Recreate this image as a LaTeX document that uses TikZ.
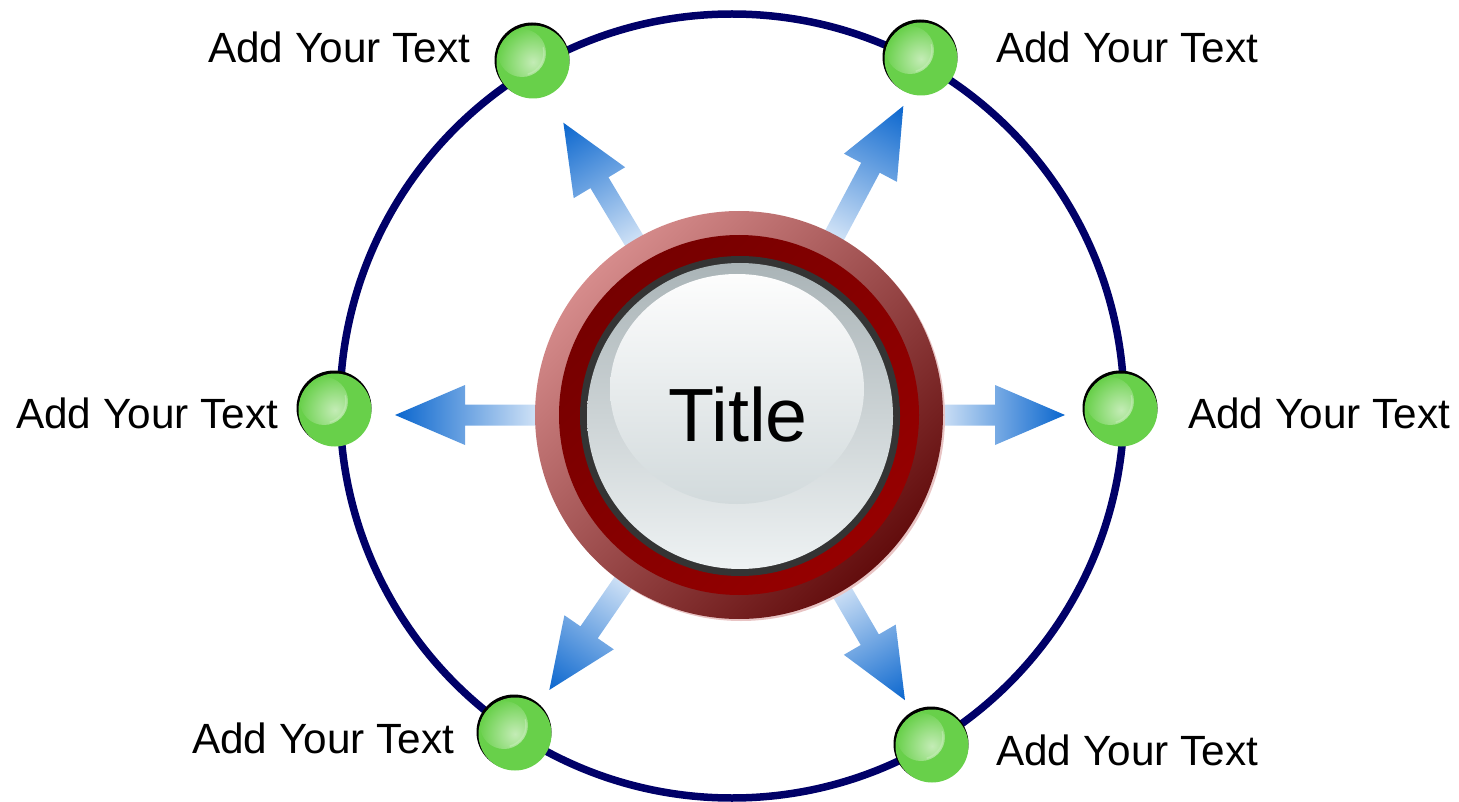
\documentclass[tikz,border=0pt]{standalone}
\usepackage{fontspec}
\setmainfont{Liberation Sans}
\definecolor{navy}{RGB}{0,0,104}
\definecolor{arrowblue}{RGB}{10,102,206}
\definecolor{arrowlight}{RGB}{232,241,251}
\definecolor{ringlight}{RGB}{214,140,140}
\definecolor{ringmid}{RGB}{152,22,22}
\definecolor{ringdark}{RGB}{98,12,12}
\definecolor{rimpink}{RGB}{232,196,196}
\definecolor{innerdark}{RGB}{118,0,0}
\definecolor{innerbright}{RGB}{150,0,0}
\definecolor{bordergray}{RGB}{52,52,52}
\definecolor{facetop}{RGB}{170,180,183}
\definecolor{facemid}{RGB}{206,214,216}
\definecolor{facebot}{RGB}{238,242,243}
\definecolor{hitop}{RGB}{253,253,253}
\definecolor{hibot}{RGB}{210,218,220}
\definecolor{ballgreen}{RGB}{104,208,74}
\definecolor{ballhi}{RGB}{196,236,182}
\newcommand\radarrow[3]{%
  \begin{scope}[transform canvas={shift={(739,415)},rotate=#1}]
    \shade[left color=arrowlight, right color=arrowblue]
      (#2,-10.5) -- (#3-70,-10.5) -- (#3-70,-30) -- (#3,0) -- (#3-70,30)
      -- (#3-70,10.5) -- (#2,10.5) -- cycle;
  \end{scope}}
\newcommand\greenball[3]{%
  \fill[black] (#2-1,#3-2) circle (37.5);
  \node[ball] (#1) at (#2,#3) {};}
\begin{document}
\begin{tikzpicture}[x=1pt,y=-1pt,
  lbl/.style={inner sep=0pt, anchor=west, font=\fontsize{42.3}{50}\selectfont},
  ball/.style={circle, inner sep=0pt, minimum size=73pt, fill=ballgreen,
    path picture={
      \shade[inner color=ballhi, outer color=ballgreen]
        ([shift={(-11pt,9pt)}]path picture bounding box.center) circle (24pt);
      \draw[ballhi, opacity=.6, line width=1.4pt]
        ([shift={(-11pt,9pt)}]path picture bounding box.center) ++(-75:22pt) arc (-75:15:22pt);
    }}]
\useasboundingbox (0,0) rectangle (1459,802);
% big circle
\draw[navy, line width=7.5pt] (732,406) circle (392);
% arrows
\radarrow{180}{185}{344}
\radarrow{0}{185}{326}
\radarrow{121}{185}{341}
\radarrow{62}{185}{350}
\radarrow{-124.6}{185}{334}
\radarrow{-59.8}{185}{330}
% central button
\fill[rimpink] (741,417) circle (204);
\begin{scope}[transform canvas={shift={(739,415)},rotate=45}]
  \shade[top color=ringlight, middle color=ringmid, bottom color=ringdark] (0,0) circle (204);
  \shade[top color=innerdark, bottom color=innerbright] (0,0) circle (180);
\end{scope}
\node[circle, inner sep=0pt, minimum size=408pt] (button) at (739,415) {};
\fill[bordergray] (740,416) circle (160);
\shade[top color=facetop, middle color=facemid, bottom color=facebot] (740,416) circle (153);
\shade[top color=hitop, bottom color=hibot] (737,389) ellipse (127 and 115);
\node[inner sep=0pt, font=\fontsize{75.4}{90}\selectfont] (title) at (738,415) {Title};
% balls
\greenball{b1}{533}{62}
\greenball{b2}{921}{59}
\greenball{b3}{335}{410}
\greenball{b4}{1121}{410}
\greenball{b5}{515}{734}
\greenball{b6}{932}{746}
% labels
\node[lbl] (t1) at (208,47) {Add Your Text};
\node[lbl] (t2) at (996,47) {Add Your Text};
\node[lbl] (t3) at (16,413) {Add Your Text};
\node[lbl] (t4) at (1188,413) {Add Your Text};
\node[lbl] (t5) at (192,738) {Add Your Text};
\node[lbl] (t6) at (996,750) {Add Your Text};
\end{tikzpicture}
\end{document}
